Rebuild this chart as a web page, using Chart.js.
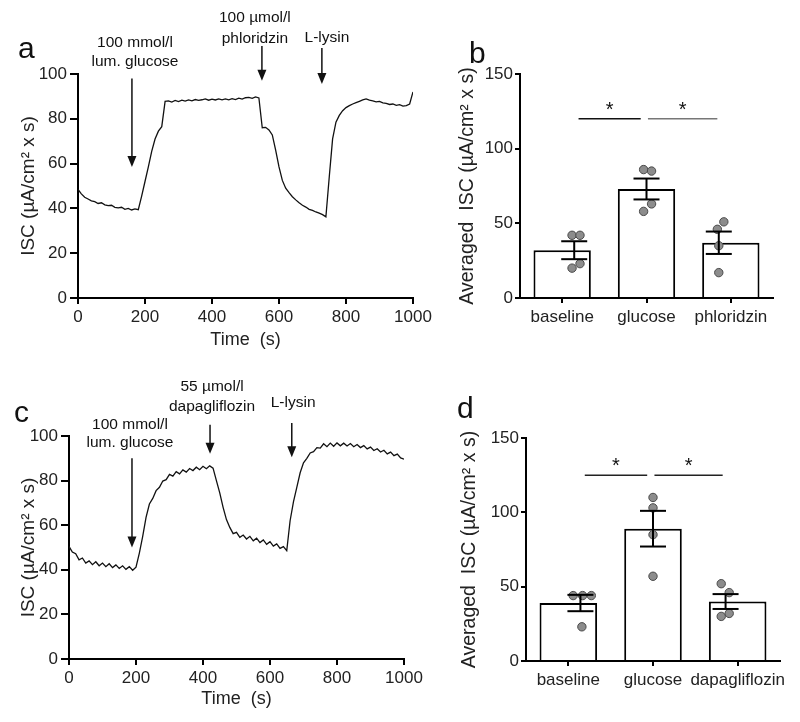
<!DOCTYPE html>
<html>
<head>
<meta charset="utf-8">
<script src="https://cdn.jsdelivr.net/npm/chart.js@4.4.1/dist/chart.umd.min.js"></script>
<style>
  body { margin: 0; background: #fff; width: 800px; height: 722px; position: relative; overflow: hidden; }
  canvas { position: absolute; }
</style>
</head>
<body>
<canvas id="chartA" width="440" height="355" style="left:0;top:0"></canvas>
<canvas id="chartB" width="370" height="320" style="left:430px;top:30px"></canvas>
<canvas id="chartC" width="440" height="362" style="left:0;top:360px"></canvas>
<canvas id="chartD" width="370" height="332" style="left:430px;top:390px"></canvas>
<script>
// time axis of the recordings (s)
var times = [];
for (var s = 0; s <= 1000; s += 10) times.push(s);

// ISC traces, one value per 10 s
var traceA = [
  48.5, 46.5, 45.0, 44.2, 43.4, 43.0, 42.2, 42.5, 41.6, 41.2,
  41.4, 40.5, 40.2, 40.5, 39.6, 40.0, 39.3, 39.8, 39.4, 45.5,
  52.0, 58.5, 65.5, 71.0, 74.5, 76.5, 87.8, 88.0, 87.5, 88.2,
  87.7, 88.3, 87.9, 88.4, 88.0, 88.6, 88.2, 88.5, 88.9, 88.3,
  88.8, 88.4, 88.9, 88.5, 88.9, 88.5, 89.0, 88.6, 89.2, 88.8,
  89.4, 89.6, 89.1, 89.8, 89.3, 76.0, 76.2, 75.0, 72.8, 66.0,
  58.5, 52.5, 49.0, 47.0, 45.2, 43.8, 42.5, 41.4, 40.6, 39.6,
  39.1, 38.4, 37.9, 37.2, 36.2, 54.0, 71.0, 78.5, 81.5, 83.6,
  85.0, 85.9, 86.6, 87.2, 87.8, 88.4, 88.9, 88.3, 88.0, 87.6,
  87.8, 87.1, 86.9, 86.4, 86.6, 86.0, 86.3, 85.7, 85.9, 86.6,
  92.0
];
var traceC = [
  50.5, 48.0, 47.2, 44.5, 45.3, 43.0, 44.0, 42.3, 43.6, 41.8,
  43.0, 41.4, 42.7, 41.0, 42.2, 40.6, 41.8, 40.2, 41.4, 39.8,
  41.2, 47.5, 55.0, 63.5, 69.5, 72.0, 75.5, 77.0, 79.8, 80.4,
  82.8, 82.0, 84.0, 83.0, 84.8, 83.8, 85.4, 84.5, 86.0, 84.9,
  86.4, 85.3, 86.6, 85.6, 80.0, 74.5, 68.0, 62.5, 59.0, 56.2,
  56.8, 54.6, 55.6, 53.8, 55.0, 53.0, 54.2, 52.2, 53.4, 51.4,
  52.6, 50.6, 51.6, 49.6, 50.4, 48.6, 62.0, 70.5, 77.0, 83.5,
  88.0, 90.0, 92.4, 93.0, 94.8, 94.6, 96.5, 95.2, 96.8, 95.4,
  96.9, 95.6, 96.8, 95.5, 96.6, 95.2, 96.2, 94.8, 95.7, 94.2,
  95.0, 93.5, 94.3, 92.8, 93.6, 92.0, 92.8, 91.2, 91.9, 90.2,
  89.6
];

// averaged ISC, bars b and d
var catsB = ['baseline', 'glucose', 'phloridzin'];
var meanB = [32, 73, 37];
var semB = [6, 7, 7.5];
var dotsB = [[42, 42, 20, 23], [86, 85, 58, 63], [51, 46, 35, 17]];
var jitterB = [[-0.03, 0.08, -0.03, 0.08], [-0.04, 0.07, -0.04, 0.07], [0.07, -0.02, 0, 0]];

var catsD = ['baseline', 'glucose', 'dapagliflozin'];
var meanD = [39, 89, 40];
var semD = [5.5, 12, 5];
var dotsD = [[44, 44, 44, 23], [110, 103, 85, 57], [52, 46, 30, 32]];
var jitterD = [[-0.1, 0.03, 0.15, 0.02], [0, 0, 0, 0], [-0.06, 0.05, -0.06, 0.05]];

var FONT = 'Arial, "Liberation Sans", sans-serif';
Chart.defaults.font.family = FONT;
Chart.defaults.color = '#222';

function line(ctx, x1, y1, x2, y2) {
  ctx.beginPath(); ctx.moveTo(x1, y1); ctx.lineTo(x2, y2); ctx.stroke();
}

// treatment arrows and labels on the traces, in data units
var traceNotes = {
  id: 'traceNotes',
  afterDraw: function (chart, args, o) {
    var ctx = chart.ctx, x = chart.scales.x, y = chart.scales.y;
    ctx.save();
    ctx.fillStyle = '#111'; ctx.strokeStyle = '#111';
    ctx.font = '15.5px ' + FONT;
    ctx.textAlign = 'center'; ctx.textBaseline = 'middle';
    o.labels.forEach(function (l) {
      ctx.fillText(l.text, x.getPixelForValue(l.t), y.getPixelForValue(l.v));
    });
    ctx.lineWidth = 1.5;
    o.arrows.forEach(function (a) {
      var px = x.getPixelForValue(a.t), y1 = y.getPixelForValue(a.from), y2 = y.getPixelForValue(a.to);
      line(ctx, px, y1, px, y2 - 9);
      ctx.beginPath();
      ctx.moveTo(px - 4.5, y2 - 11); ctx.lineTo(px + 4.5, y2 - 11); ctx.lineTo(px, y2); ctx.closePath();
      ctx.fill();
    });
    ctx.font = '30px ' + FONT;
    ctx.textAlign = 'left'; ctx.textBaseline = 'alphabetic';
    ctx.fillText(o.letter, o.lx, o.ly);
    ctx.restore();
  }
};

// error bars, significance lines and panel letter on the bar charts
var barNotes = {
  id: 'barNotes',
  afterDatasetsDraw: function (chart, args, o) {
    var ctx = chart.ctx, xd = chart.scales.xd, y = chart.scales.y;
    ctx.save();
    ctx.strokeStyle = '#000'; ctx.lineWidth = 2;
    o.means.forEach(function (m, i) {
      var cx = xd.getPixelForValue(i), t = y.getPixelForValue(m + o.sems[i]), b = y.getPixelForValue(m - o.sems[i]);
      line(ctx, cx, t, cx, b);
      line(ctx, cx - 13, t, cx + 13, t);
      line(ctx, cx - 13, b, cx + 13, b);
    });
    ctx.lineWidth = 1.5;
    ctx.font = '20px ' + FONT;
    ctx.textAlign = 'center'; ctx.textBaseline = 'alphabetic';
    o.sig.forEach(function (s) {
      var x1 = xd.getPixelForValue(s.from), x2 = xd.getPixelForValue(s.to), py = y.getPixelForValue(s.v);
      ctx.strokeStyle = s.color; ctx.fillStyle = '#111';
      line(ctx, x1, py, x2, py);
      ctx.fillText('*', (x1 + x2) / 2, py - 3);
    });
    ctx.fillStyle = '#111';
    ctx.font = '30px ' + FONT;
    ctx.textAlign = 'left';
    ctx.fillText(o.letter, o.lx, o.ly);
    ctx.restore();
  }
};

function plainTick(v) { return String(v); }

function traceChart(id, values, o) {
  return new Chart(document.getElementById(id), {
    type: 'line',
    data: {
      datasets: [{
        data: times.map(function (t, i) { return { x: t, y: values[i] }; }),
        borderColor: '#111', borderWidth: 1.3, pointRadius: 0, tension: 0
      }]
    },
    options: {
      responsive: false, animation: false,
      layout: { padding: { top: o.top, right: o.right, left: 0, bottom: 0 } },
      plugins: { legend: { display: false }, tooltip: { enabled: false }, traceNotes: o.notes },
      scales: {
        x: {
          type: 'linear', min: 0, max: 1000,
          ticks: { stepSize: 200, font: { size: 17 }, padding: 3, maxRotation: 0, callback: plainTick },
          grid: { drawOnChartArea: false, color: '#000', lineWidth: 2, tickLength: 6 },
          border: { color: '#000', width: 2 },
          title: { display: true, text: 'Time  (s)', font: { size: 18 }, padding: { top: 0, bottom: o.xTitlePad } },
          afterFit: function (sc) { sc.height = o.xh; }
        },
        y: {
          min: 0, max: 100,
          ticks: { stepSize: 20, font: { size: 17 }, padding: 3, callback: plainTick },
          grid: { drawOnChartArea: false, color: '#000', lineWidth: 2, tickLength: 8 },
          border: { color: '#000', width: 2 },
          title: { display: true, text: 'ISC (µA/cm² x s)', font: { size: 19 }, padding: { top: 17, bottom: 0 } },
          afterFit: function (sc) { sc.width = o.yw; }
        }
      }
    },
    plugins: [traceNotes]
  });
}

function barChart(id, cats, means, sems, dots, jitter, o) {
  var pts = [];
  dots.forEach(function (grp, i) {
    grp.forEach(function (v, k) { pts.push({ x: i + jitter[i][k], y: v }); });
  });
  return new Chart(document.getElementById(id), {
    type: 'bar',
    data: {
      labels: cats,
      datasets: [
        { type: 'scatter', data: pts, xAxisID: 'xd', showLine: false,
          backgroundColor: '#8c8c8c', borderColor: '#4a4a4a', borderWidth: 1, pointRadius: 4.2 },
        { data: means, backgroundColor: '#fff', borderColor: '#000', borderWidth: 2, grouped: false,
          barPercentage: 0.68, categoryPercentage: 1 }
      ]
    },
    options: {
      responsive: false, animation: false,
      layout: { padding: { top: o.top, right: o.right, left: 0, bottom: 0 } },
      plugins: {
        legend: { display: false }, tooltip: { enabled: false },
        barNotes: { means: means, sems: sems, sig: o.sig, letter: o.letter, lx: o.lx, ly: o.ly }
      },
      scales: {
        x: {
          offset: true,
          ticks: { font: { size: 17 }, padding: 4, maxRotation: 0, minRotation: 0, autoSkip: false },
          grid: { drawOnChartArea: false, offset: false, color: '#000', lineWidth: 2, tickLength: 5 },
          border: { color: '#000', width: 2 },
          afterFit: function (sc) { sc.height = o.xh; }
        },
        xd: { type: 'linear', min: -0.5, max: 2.5, display: false },
        y: {
          min: 0, max: 150,
          ticks: { stepSize: 50, font: { size: 17 }, padding: 2 },
          grid: { drawOnChartArea: false, color: '#000', lineWidth: 2, tickLength: 5 },
          border: { color: '#000', width: 2 },
          title: { display: true, text: 'Averaged  ISC (µA/cm² x s)', font: { size: 19.5 }, padding: { top: o.yTitlePad, bottom: 0 } },
          afterFit: function (sc) { sc.width = o.yw; }
        }
      }
    },
    plugins: [barNotes]
  });
}

traceChart('chartA', traceA, {
  top: 74, right: 27, xh: 57, yw: 78, xTitlePad: 4,
  notes: {
    letter: 'a', lx: 18, ly: 58,
    labels: [
      { text: '100 mmol/l', t: 170, v: 114 },
      { text: 'lum. glucose', t: 170, v: 105.5 },
      { text: '100 µmol/l', t: 528, v: 125 },
      { text: 'phloridzin', t: 528, v: 115.8 },
      { text: 'L-lysin', t: 743, v: 116 }
    ],
    arrows: [
      { t: 161, from: 98, to: 58.5 },
      { t: 549, from: 112.5, to: 97 },
      { t: 728, from: 111.6, to: 95.5 }
    ]
  }
});

barChart('chartB', catsB, meanB, semB, dotsB, jitterB, {
  top: 44, right: 27, xh: 52, yw: 90, yTitlePad: 26,
  letter: 'b', lx: 39, ly: 33,
  sig: [
    { from: 0.06, to: 0.92, v: 120, color: '#111' },
    { from: 1.02, to: 1.98, v: 120, color: '#777' }
  ]
});

traceChart('chartC', traceC, {
  top: 76, right: 36, xh: 63, yw: 69, xTitlePad: 12,
  notes: {
    letter: 'c', lx: 14, ly: 62,
    labels: [
      { text: '100 mmol/l', t: 182, v: 105 },
      { text: 'lum. glucose', t: 182, v: 97 },
      { text: '55 µmol/l', t: 427, v: 122 },
      { text: 'dapagliflozin', t: 427, v: 113 },
      { text: 'L-lysin', t: 669, v: 114.8 }
    ],
    arrows: [
      { t: 188, from: 90, to: 50 },
      { t: 421, from: 105, to: 92 },
      { t: 665, from: 105.8, to: 90.5 }
    ]
  }
});

barChart('chartD', catsD, meanD, semD, dotsD, jitterD, {
  top: 48, right: 20, xh: 61, yw: 96, yTitlePad: 28,
  letter: 'd', lx: 27, ly: 28,
  sig: [
    { from: 0.06, to: 0.92, v: 125, color: '#222' },
    { from: 1.02, to: 1.96, v: 125, color: '#222' }
  ]
});
</script>
</body>
</html>
